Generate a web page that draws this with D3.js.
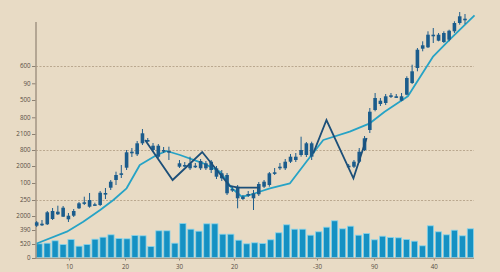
<!DOCTYPE html>
<html>
<head>
<meta charset="utf-8">
<script src="https://cdn.jsdelivr.net/npm/d3@7"></script>
<style>
  html, body { margin: 0; padding: 0; background: #e8dbc5; }
  svg { display: block; }
  text { font-family: "Open Sans", "Noto Sans", sans-serif; }
</style>
</head>
<body>
<svg id="chart"></svg>
<script>
var width = 500;
var height = 272;

// candles, index 0..81 (null = no candle on that slot)
var openVals  = [32.3,34.3,33.7,39,43.7,41.3,42.3,42.3,49.7,55.5,51.3,53.7,53,65,70.3,78,84.7,90.3,104.7,103.7,114.7,118,112.3,112.3,108,107,null,
  91.3,93,89.7,92.3,89.7,94.7,96.3,89.7,84.7,83,69,71.3,61.3,64,59.7,63.7,71.3,73,85.7,91.3,89.7,96.3,98,103,103,114.7,
  null,null,null,null,null,null,92.3,91.3,96.3,108,128,148,154,155,162.7,161.7,157.3,163.3,175,190,209.3,210.7,223.3,217.3,216,218.3,226.7,235,239.3];
var closeVals = [35.7,34.3,45.7,47,46.3,50.3,38.7,47,54.7,55.7,58,53.7,65.3,65,76.3,83,84.7,105.7,106.3,114.7,124.7,118,108,101.3,108,107,null,
  94.7,93,94.7,92.3,97,89.7,88,81.3,79.7,64.7,69,59.7,59,64,64.7,74,76.3,84.7,85.7,91.3,96.3,101.3,101.3,108,114.7,101.3,
  null,null,null,null,null,null,92.3,96.3,106.3,119.7,146.3,160,157.3,161.7,162.7,161.7,161.7,180,186.7,208.3,212.7,223.3,223.3,223.3,225,227.3,235,241.7,239.3];
var highVals  = [37,38,47,50,52.3,52,45,49,56,61.3,65,55.3,67,70,78,86.3,93,108,110,117,129,120,115,114,111,111.3,null,
  98,96,101.3,95,99,97,98,92,88,85,72,73,63,67,68,76,78,86,90,95,99,104,105,121.3,116,116.3,
  null,null,null,null,null,null,94,98,110,122,150,165,160,164,165,164,165,181.7,193.3,210,216.7,226.7,230,225,226.7,228.3,236.7,246,244];
var lowVals   = [31,32,33,38,43,41,36,41,49,53,50.3,52.3,52,59,68,73,80,88,101,102,113,116,106,100,105,98,null,
  90,91,88,90,88,88,85,79,77,63,66,49.7,58,61,48,62,70,71.3,83,88,88,95,96,101.3,101,98,
  null,null,null,null,null,null,91,90,95,107,125,146.7,152,153,160,160,156.7,162.7,174,186.7,206.7,210,215,216.7,215,216.7,225,233.3,234];

// moving average line: candle index / value
var maIdx = [0,5.7,8.8,12,14.5,17,19.5,22.7,24.6,27.1,31.5,34.7,36.9,38.8,40.3,42,44.1,47.9,51,54.2,59.2,63,65.8,70.2,75,78.1,82.8];
var maVal = [14.5,26.3,36.3,48,58,69.7,93,103,107,103,94.7,86.3,69.7,61.3,63,66,69.7,74.7,96.3,118,126.3,134.7,146.3,161.7,201.7,218.3,242.7];

// dark connecting line (two pieces)
var zigIdxA = [20.5,25.7,31.3,36.5,38.1,42.2];
var zigValA = [118,78,106,72,70.3,70.3];
var zigIdxB = [52.3,54.8,59.9,62.4];
var zigValB = [104.7,138,79.7,120];

// volume bars
var volume = [13.7,14.3,16.7,13,18,11.3,13,18.3,20.3,22.7,19,18.7,22,21.7,11,26.7,26.7,14.3,34,28.3,26.3,33.7,33.7,23.3,23.3,17.3,13.7,
  14.7,14,17.7,24.7,32.7,28.3,28.3,22.3,25.7,30.3,36.7,28.7,31.3,22.3,24,17.7,21.3,20,19.7,18,16.3,11.7,31.7,25.7,22.7,27.3,21.7,28.7];

// axis labels
var yTickVals = [192,174.7,158,140.7,124,108,92,75,58,42,28,14,0];
var yTickText = ["600","90","500","800","2100","800","2000","100","250","2000","390","520","0"];
var xTickVals = [6.1,16.7,26.9,37.3,53,63.8,75.1];
var xTickText = ["10","20","30","20","-30","90","40"];
var dashedVals = [192,108,58];

var svg = d3.select('#chart').attr('width', width).attr('height', height);

var plotLeft = 36, plotRight = 474, plotTop = 22, plotBottom = 258;

var x = d3.scaleLinear().domain([0, 81]).range([36.7, 465]);
var y = d3.scaleLinear().domain([0, 236]).range([plotBottom, plotTop]);
var xBar = d3.scaleBand().domain(d3.range(volume.length)).range([36, 473.5]).paddingInner(0.22).paddingOuter(0);
var yVol = d3.scaleLinear().domain([0, 40]).range([257.5, 217.5]);

// dashed grid lines
svg.append('g').selectAll('line')
  .data(dashedVals).enter().append('line')
  .attr('x1', plotLeft).attr('x2', plotRight)
  .attr('y1', function(d){ return Math.round(y(d)) + 0.5; })
  .attr('y2', function(d){ return Math.round(y(d)) + 0.5; })
  .attr('stroke', '#ad9a81').attr('stroke-width', 0.8)
  .attr('stroke-dasharray', '2,1.5');

// volume
svg.append('g').selectAll('rect')
  .data(volume).enter().append('rect')
  .attr('x', function(d,i){ return xBar(i); })
  .attr('width', xBar.bandwidth())
  .attr('y', function(d){ return yVol(d); })
  .attr('height', function(d){ return yVol(0) - yVol(d); })
  .attr('fill', '#1591c3')
  .attr('stroke', '#86d4ec').attr('stroke-width', 0.8);

// axes
var yAxis = d3.axisLeft(y).tickValues(yTickVals).tickSize(4)
  .tickFormat(function(d,i){ return yTickText[i]; });
var gy = svg.append('g').attr('transform', 'translate(' + plotLeft + ',0)').call(yAxis);
gy.select('.domain').remove();
gy.selectAll('line').attr('stroke', '#8d8172');
gy.selectAll('text').attr('fill', '#564c42').attr('font-size', 6.2).attr('x', -5.5);

svg.append('line').attr('x1', plotLeft).attr('x2', plotLeft).attr('y1', plotTop).attr('y2', plotBottom + 0.5)
  .attr('stroke', '#a69987').attr('stroke-width', 1.6);

var xAxis = d3.axisBottom(x).tickValues(xTickVals).tickSize(2.5)
  .tickFormat(function(d,i){ return xTickText[i]; });
var gx = svg.append('g').attr('transform', 'translate(0,' + plotBottom + ')').call(xAxis);
gx.select('.domain').remove();
gx.selectAll('line').attr('stroke', '#8d8172');
gx.selectAll('text').attr('fill', '#564c42').attr('font-size', 6.2).attr('dy', '0.9em');

svg.append('line').attr('x1', plotLeft).attr('x2', plotRight).attr('y1', plotBottom + 0.3).attr('y2', plotBottom + 0.3)
  .attr('stroke', '#a69987').attr('stroke-width', 1.2);

// MA line
var maLine = d3.line()
  .x(function(d){ return x(d[0]); })
  .y(function(d){ return y(d[1]); });

svg.append('path')
  .datum(d3.zip(maIdx, maVal))
  .attr('d', maLine)
  .attr('fill', 'none').attr('stroke', '#26a3c6').attr('stroke-width', 1.8)
  .attr('stroke-linejoin', 'round');

// candles
var candles = d3.range(openVals.length).filter(function(i){ return openVals[i] !== null; });
var cg = svg.append('g').selectAll('g')
  .data(candles).enter().append('g');

cg.append('line')
  .attr('x1', function(i){ return x(i); }).attr('x2', function(i){ return x(i); })
  .attr('y1', function(i){ return y(highVals[i]); })
  .attr('y2', function(i){ return y(lowVals[i]); })
  .attr('stroke', '#1d5d8c').attr('stroke-width', 1);

cg.append('rect')
  .attr('x', function(i){ return x(i) - 1.8; })
  .attr('width', 3.6)
  .attr('y', function(i){ return y(Math.max(openVals[i], closeVals[i])); })
  .attr('height', function(i){ return Math.max(1.6, Math.abs(y(openVals[i]) - y(closeVals[i]))); })
  .attr('fill', '#1b5c8c');

// dark connecting line
[[zigIdxA, zigValA], [zigIdxB, zigValB]].forEach(function(p){
  svg.append('path')
    .datum(d3.zip(p[0], p[1]))
    .attr('d', maLine)
    .attr('fill', 'none').attr('stroke', '#1c4f79').attr('stroke-width', 1.8)
    .attr('stroke-linejoin', 'miter');
});
</script>
</body>
</html>
